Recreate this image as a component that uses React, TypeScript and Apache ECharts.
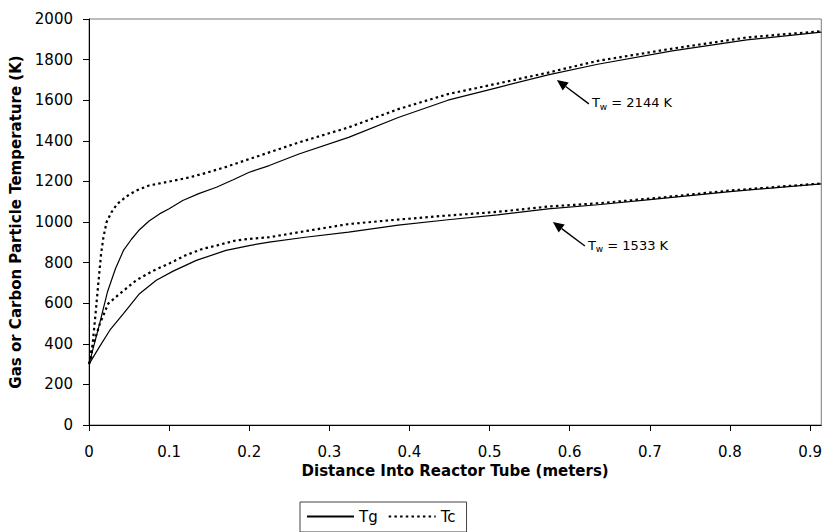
import { useEffect, useRef } from 'react';
import * as echarts from 'echarts';

// Tw = 2144 K case
const hotTgX = [0, 0.006, 0.012, 0.023, 0.033, 0.043, 0.053, 0.063, 0.075, 0.088, 0.1, 0.117, 0.137, 0.159, 0.18, 0.2, 0.225, 0.262, 0.324, 0.386, 0.448, 0.51, 0.573, 0.635, 0.728, 0.821, 0.914];
const hotTgY = [300, 390, 480, 655, 770, 860, 915, 962, 1005, 1040, 1065, 1106, 1140, 1171, 1208, 1245, 1278, 1335, 1417, 1515, 1600, 1662, 1725, 1777, 1843, 1897, 1935];
const hotTcX = [0, 0.003, 0.008, 0.0116, 0.015, 0.018, 0.022, 0.028, 0.035, 0.043, 0.05, 0.059, 0.075, 0.1, 0.12, 0.142, 0.17, 0.2, 0.225, 0.262, 0.324, 0.386, 0.448, 0.51, 0.573, 0.635, 0.728, 0.821, 0.914];
const hotTcY = [300, 336, 540, 696, 840, 925, 1000, 1048, 1088, 1114, 1135, 1155, 1180, 1199, 1215, 1237, 1270, 1310, 1343, 1392, 1466, 1556, 1630, 1682, 1736, 1794, 1854, 1909, 1940];

// Tw = 1533 K case
const coolTgX = [0, 0.013, 0.026, 0.043, 0.063, 0.084, 0.105, 0.134, 0.171, 0.2, 0.225, 0.27, 0.324, 0.386, 0.448, 0.51, 0.573, 0.635, 0.7, 0.8, 0.914];
const coolTgY = [300, 385, 467, 549, 647, 713, 758, 811, 860, 884, 901, 925, 950, 985, 1011, 1035, 1065, 1085, 1110, 1150, 1188];
const coolTcX = [0, 0.003, 0.0137, 0.024, 0.0385, 0.059, 0.08, 0.1, 0.12, 0.142, 0.16, 0.183, 0.2, 0.225, 0.27, 0.324, 0.386, 0.448, 0.51, 0.573, 0.635, 0.7, 0.8, 0.914];
const coolTcY = [300, 369, 500, 598, 647, 713, 760, 795, 835, 868, 885, 909, 917, 925, 955, 990, 1012, 1032, 1050, 1076, 1092, 1115, 1155, 1190];

// annotations: wall temperature labels and the data point the arrow tip points at
const annoTemps = ['2144', '1533'];
const annoTipX = [0.584, 0.579];
const annoTipY = [1700, 1000];

const seriesNames = ['Tg', 'Tc'];
const xTitle = 'Distance Into Reactor Tube (meters)';
const yTitle = 'Gas or Carbon Particle Temperature (K)';

const FONT = 'DejaVu Sans';

function pairs(xs: number[], ys: number[]) {
  return xs.map((x, i) => [x, ys[i]]);
}

export default function App() {
  const ref = useRef<HTMLDivElement>(null);
  useEffect(() => {
    if (!ref.current) return;
    const chart = echarts.init(ref.current, undefined, { renderer: 'svg' });
    const solid = { color: '#000', width: 1.2, type: 'solid' as const };
    const dotted = { color: '#000', width: 2.2, type: [2.5, 3.2] as number[] };
    const mk = (name: string, data: number[][], ls: any) => ({
      type: 'line',
      name,
      data,
      showSymbol: false,
      symbol: 'none',
      legendIcon: 'none',
      lineStyle: ls,
      itemStyle: { color: '#000' },
      emphasis: { disabled: true },
      silent: true,
    });
    chart.setOption({
      animation: false,
      textStyle: { fontFamily: FONT, color: '#000' },
      grid: {
        left: 89,
        right: 2,
        top: 19,
        bottom: 107,
        show: true,
        borderColor: '#7a7a7a',
        borderWidth: 1,
      },
      legend: {
        data: seriesNames,
        left: 300,
        top: 502,
        orient: 'horizontal',
        itemWidth: 47,
        itemHeight: 14,
        itemGap: 10,
        padding: [7, 11, 8, 6],
        borderColor: '#444',
        borderWidth: 1,
        borderRadius: 0,
        itemStyle: { opacity: 0, borderWidth: 0 },
        textStyle: { fontFamily: FONT, fontSize: 15, color: '#000' },
        selectedMode: false,
      },
      xAxis: {
        type: 'value',
        min: 0,
        max: 0.914,
        interval: 0.1,
        name: xTitle,
        nameLocation: 'middle',
        nameGap: 37,
        nameTextStyle: { fontFamily: FONT, fontSize: 15, fontWeight: 'bold', color: '#000' },
        axisLine: { show: true, onZero: false, lineStyle: { color: '#000', width: 1 } },
        axisTick: { show: true, inside: false, length: 6, lineStyle: { color: '#000' } },
        axisLabel: {
          fontFamily: FONT,
          fontSize: 15,
          color: '#000',
          margin: 19,
          showMaxLabel: false,
          formatter: (v: number) => String(Math.round(v * 10) / 10),
        },
        splitLine: { show: false },
      },
      yAxis: {
        type: 'value',
        min: 0,
        max: 2000,
        interval: 200,
        name: yTitle,
        nameLocation: 'middle',
        nameGap: 64,
        nameRotate: 90,
        nameTextStyle: { fontFamily: FONT, fontSize: 15, fontWeight: 'bold', color: '#000' },
        axisLine: { show: true, lineStyle: { color: '#000', width: 1 } },
        axisTick: { show: true, inside: false, length: 6, lineStyle: { color: '#000' } },
        axisLabel: {
          fontFamily: FONT,
          fontSize: 15,
          color: '#000',
          margin: 16,
          formatter: (v: number) => String(Math.round(v)),
        },
        splitLine: { show: false },
      },
      series: [
        mk('Tg', pairs(hotTgX, hotTgY), solid),
        mk('Tc', pairs(hotTcX, hotTcY), dotted),
        mk('Tg', pairs(coolTgX, coolTgY), solid),
        mk('Tc', pairs(coolTcX, coolTcY), dotted),
      ],
    });

    // annotations positioned from data coordinates
    const graphics: any[] = [];
    annoTemps.forEach((t, i) => {
      const tip = chart.convertToPixel({ gridIndex: 0 }, [annoTipX[i], annoTipY[i]]) as number[];
      const tail = [tip[0] + 32, tip[1] + 24];
      const len = Math.hypot(tail[0] - tip[0], tail[1] - tip[1]);
      const ux = (tail[0] - tip[0]) / len;
      const uy = (tail[1] - tip[1]) / len;
      const headL = 11;
      const headW = 5;
      const bx = tip[0] + ux * headL;
      const by = tip[1] + uy * headL;
      graphics.push({
        type: 'line',
        silent: true,
        shape: { x1: bx, y1: by, x2: tail[0], y2: tail[1] },
        style: { stroke: '#000', lineWidth: 1.4 },
      });
      graphics.push({
        type: 'polygon',
        silent: true,
        shape: {
          points: [
            [tip[0], tip[1]],
            [bx - uy * headW, by + ux * headW],
            [bx + uy * headW, by - ux * headW],
          ],
        },
        style: { fill: '#000' },
      });
      graphics.push({
        type: 'text',
        silent: true,
        x: tail[0] + 3,
        y: tail[1] - 1,
        style: {
          text: '{a|T}{s|w}{a| = ' + t + ' K}',
          verticalAlign: 'middle',
          align: 'left',
          fill: '#000',
          rich: {
            a: { fontFamily: FONT, fontSize: 13, lineHeight: 18, fill: '#000' },
            s: { fontFamily: FONT, fontSize: 9, lineHeight: 10, padding: [8, 0, 0, 0], fill: '#000' },
          },
        },
      });
    });
    chart.setOption({ graphic: graphics });

    return () => chart.dispose();
  }, []);
  return <div ref={ref} style={{ width: 825, height: 532, position: 'absolute', left: 0, top: 0 }} />;
}
